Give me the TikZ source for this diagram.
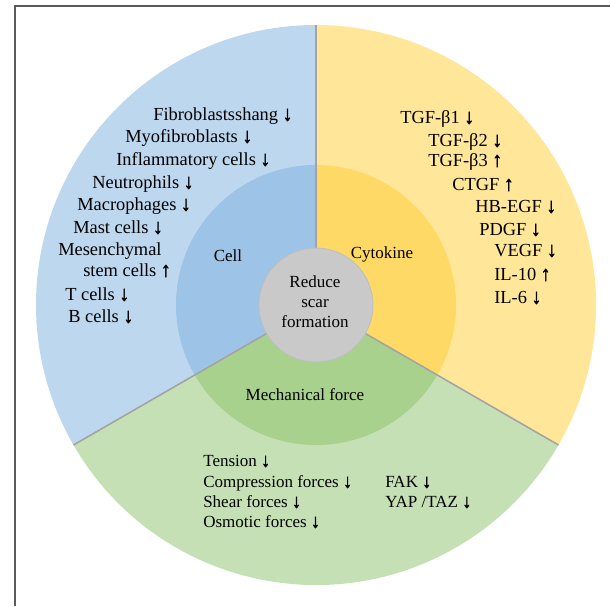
\documentclass[tikz,border=0pt]{standalone}
\usepackage{fontspec}
\setmainfont{Liberation Serif}
\newfontfamily\arrowfont[FakeBold=2.2]{Liberation Serif Bold}
\usepackage{tikz}
\usetikzlibrary{positioning}

\definecolor{CellOut}{HTML}{BDD7EE}
\definecolor{CellIn}{HTML}{9DC3E6}
\definecolor{CytoOut}{HTML}{FFE699}
\definecolor{CytoIn}{HTML}{FFD966}
\definecolor{MechOut}{HTML}{C5E0B4}
\definecolor{MechIn}{HTML}{A9D18E}
\definecolor{CoreFill}{HTML}{C9C9C9}
\definecolor{SplitLine}{HTML}{A3A3A3}
\definecolor{FrameLine}{HTML}{5A5A5A}

\newcommand{\dn}{{\arrowfont\scalebox{1.05}[1.12]{↓}}}
\newcommand{\up}{{\arrowfont\scalebox{1.05}[1.12]{↑}}}

\tikzset{
	item/.style={anchor=west, inner sep=0pt, text height=0.7em, text depth=0.2em,
		font=\fontsize{13.1}{15}\selectfont},
	mechitem/.style={item, font=\fontsize{12.1}{14}\selectfont},
	sector/.style={align=center, inner sep=0pt, font=\fontsize{12.1}{14.2}\selectfont},
	split/.style={draw=SplitLine, line width=1.1pt},
}

\begin{document}
\begin{tikzpicture}
	
	% ------------------------------------------------
	% Ensure the dimensions of graphic are appropriate
	\useasboundingbox (-7.90cm,-7.525cm) rectangle (7.35cm,7.625cm);
	
	% ------------------------------------------------
	% Relevant coordinates
	\coordinate (Ctr) at (0,0);
	\def\rout{7.00cm}
	\def\rmid{3.50cm}
	\def\rcore{1.425cm}
	
	\path (Ctr) +(90:\rout)  coordinate (SplitTop);
	\path (Ctr) +(210:\rout) coordinate (SplitLeft);
	\path (Ctr) +(330:\rout) coordinate (SplitRight);
	
	\path (Ctr) +(90:\rcore)  coordinate (CoreTop);
	\path (Ctr) +(210:\rcore) coordinate (CoreLeft);
	\path (Ctr) +(330:\rcore) coordinate (CoreRight);
	
	% ----------------
	% Frame
	\draw[FrameLine, line width=1.4pt] (-7.53cm,-7.525cm) -- (-7.53cm,7.475cm) -- (7.35cm,7.475cm);
	
	% ----------------
	% Outer ring
	\fill[CellOut] (Ctr) -- (SplitTop) arc [start angle=90, end angle=210, radius=\rout] -- cycle;
	\fill[CytoOut] (Ctr) -- (SplitRight) arc [start angle=-30, end angle=90, radius=\rout] -- cycle;
	\fill[MechOut] (Ctr) -- (SplitLeft) arc [start angle=210, end angle=330, radius=\rout] -- cycle;
	
	% ----------------
	% Middle ring
	\fill[CellIn] (Ctr) -- +(90:\rmid) arc [start angle=90, end angle=210, radius=\rmid] -- cycle;
	\fill[CytoIn] (Ctr) -- +(-30:\rmid) arc [start angle=-30, end angle=90, radius=\rmid] -- cycle;
	\fill[MechIn] (Ctr) -- +(210:\rmid) arc [start angle=210, end angle=330, radius=\rmid] -- cycle;
	
	% ----------------
	% Dividers
	\draw[split] (CoreTop) -- (SplitTop);
	\draw[split] (CoreLeft) -- (SplitLeft);
	\draw[split] (CoreRight) -- (SplitRight);
	
	% ----------------
	% Centre
	\node[circle, minimum size=2*\rcore, inner sep=0pt, fill=CoreFill, draw=SplitLine!70, line width=0.6pt] (Core) at (Ctr) {};
	\node[sector] (CoreLbl) at (-0.025cm,0.075cm) {Reduce\\scar\\formation};
	
	\node[sector] (CellLbl) at (-2.20cm,1.225cm) {Cell};
	\node[sector] (CytoLbl) at (1.65cm,1.275cm) {Cytokine};
	\node[sector] (MechLbl) at (-0.275cm,-2.25cm) {Mechanical force};
	
	%%%%%%%%%%%%%%%%%%%%%%%%%%%%%%%%%%%%%%%%%
	% Cell list
	\node[item] (Fib)  at (-4.075cm,4.700cm) {Fibroblastsshang \dn};
	\node[item] (Myo)  at (-4.775cm,4.150cm) {Myofibroblasts \dn};
	\node[item] (Inf)  at (-5.000cm,3.575cm) {Inflammatory cells \dn};
	\node[item] (Neu)  at (-5.600cm,3.000cm) {Neutrophils \dn};
	\node[item] (Mac)  at (-5.975cm,2.450cm) {Macrophages \dn};
	\node[item] (Mast) at (-6.075cm,1.875cm) {Mast cells \dn};
	\node[item] (Mes)  at (-6.450cm,1.325cm) {Mesenchymal};
	\node[item] (Stem) at (-5.825cm,0.800cm) {stem cells \up};
	\node[item] (TC)   at (-6.275cm,0.200cm) {T cells \dn};
	\node[item] (BC)   at (-6.200cm,-0.350cm) {B cells \dn};
	
	% Cytokine list
	\node[item] (TGFa) at (2.100cm,4.625cm) {TGF-β1 \dn};
	\node[item] (TGFb) at (2.800cm,4.050cm) {TGF-β2 \dn};
	\node[item] (TGFc) at (2.800cm,3.550cm) {TGF-β3 \up};
	\node[item] (CTGF) at (3.400cm,2.950cm) {CTGF \up};
	\node[item] (HB)   at (3.975cm,2.400cm) {HB-EGF \dn};
	\node[item] (PDGF) at (4.075cm,1.825cm) {PDGF \dn};
	\node[item] (VEGF) at (4.450cm,1.300cm) {VEGF \dn};
	\node[item] (ILa)  at (4.450cm,0.700cm) {IL-10 \up};
	\node[item] (ILb)  at (4.450cm,0.125cm) {IL-6 \dn};
	
	% Mechanical force list
	\node[mechitem] (Ten)  at (-2.825cm,-3.950cm) {Tension \dn};
	\node[mechitem] (Comp) at (-2.825cm,-4.475cm) {Compression forces \dn};
	\node[mechitem] (Shr)  at (-2.825cm,-4.975cm) {Shear forces \dn};
	\node[mechitem] (Osm)  at (-2.825cm,-5.475cm) {Osmotic forces \dn};
	\node[mechitem] (FAK)  at (1.725cm,-4.475cm) {FAK \dn};
	\node[mechitem] (YAP)  at (1.725cm,-4.975cm) {YAP /TAZ \dn};
	
\end{tikzpicture}
\end{document}
